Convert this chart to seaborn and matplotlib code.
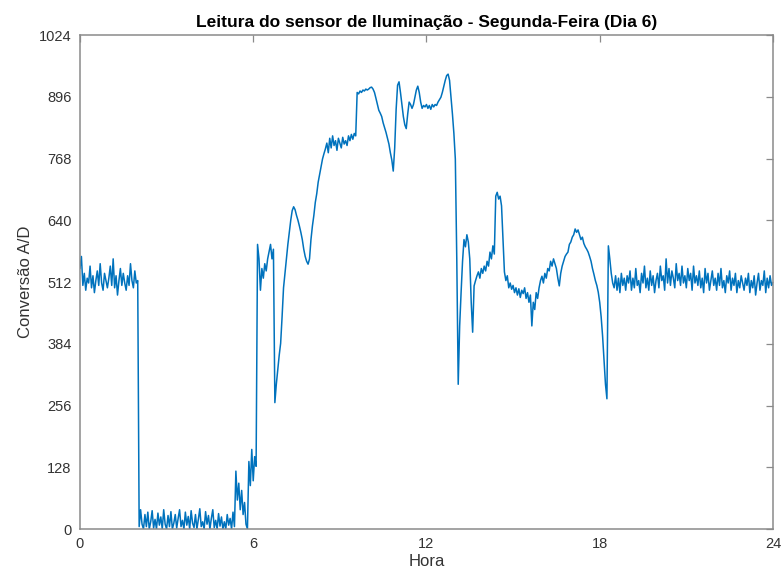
import numpy as np
import pandas as pd
import matplotlib
matplotlib.use("Agg")
import matplotlib.pyplot as plt
import seaborn as sns

# leituras a cada 0.05 h (3 min), uma linha por hora
hora_00 = [540, 565, 505, 530, 495, 520, 510, 545, 500, 525, 490, 515, 535, 505, 550, 510, 495, 530, 515, 500]
hora_01 = [520, 545, 505, 560, 500, 525, 485, 515, 540, 505, 530, 510, 495, 525, 505, 550, 515, 500, 535, 510]
hora_02 = [515, 5, 40, 10, 0, 30, 5, 35, 0, 15, 38, 2, 20, 0, 33, 8, 25, 0, 40, 10]
hora_03 = [0, 28, 5, 36, 0, 12, 30, 2, 22, 40, 5, 18, 0, 35, 8, 26, 0, 38, 12, 3]
hora_04 = [30, 0, 20, 42, 5, 15, 0, 36, 10, 28, 0, 22, 40, 3, 18, 0, 32, 6, 25, 0]
hora_05 = [15, 0, 30, 8, 22, 0, 35, 5, 120, 60, 95, 40, 80, 30, 55, 10, 0, 140, 90, 165]
hora_06 = [100, 150, 130, 590, 560, 495, 540, 520, 550, 535, 560, 575, 590, 560, 580, 262, 300, 330, 360, 385]
hora_07 = [440, 500, 530, 560, 590, 615, 640, 660, 668, 662, 650, 640, 628, 615, 600, 580, 565, 555, 549, 560]
hora_08 = [600, 628, 650, 677, 695, 719, 735, 750, 767, 778, 788, 800, 780, 810, 790, 815, 795, 805, 785, 810]
hora_09 = [800, 790, 812, 798, 805, 795, 815, 805, 818, 808, 820, 815, 905, 902, 908, 905, 910, 908, 912, 910]
hora_10 = [912, 915, 916, 912, 905, 893, 880, 868, 862, 855, 842, 832, 822, 810, 798, 780, 765, 742, 790, 870]
hora_11 = [920, 927, 905, 880, 855, 838, 830, 860, 885, 880, 872, 880, 895, 910, 918, 905, 885, 872, 878, 875]
hora_12 = [880, 872, 878, 870, 880, 875, 880, 878, 885, 890, 895, 905, 918, 930, 940, 943, 930, 895, 860, 820]
hora_13 = [767, 560, 300, 421, 491, 555, 600, 585, 610, 595, 560, 470, 408, 504, 515, 525, 533, 520, 540, 530]
hora_14 = [545, 535, 555, 545, 574, 560, 587, 570, 690, 698, 684, 690, 670, 600, 533, 515, 525, 500, 510, 497]
hora_15 = [505, 490, 500, 485, 498, 480, 495, 488, 500, 478, 490, 470, 485, 421, 470, 455, 490, 478, 500, 515]
hora_16 = [524, 510, 530, 520, 540, 535, 555, 545, 560, 550, 540, 520, 504, 530, 545, 555, 565, 570, 574, 590]
hora_17 = [595, 605, 610, 622, 615, 620, 610, 600, 605, 592, 585, 580, 574, 565, 555, 540, 528, 515, 505, 491]
hora_18 = [470, 440, 400, 350, 300, 270, 587, 560, 530, 510, 500, 525, 495, 520, 490, 530, 505, 520, 495, 525]
hora_19 = [510, 535, 495, 520, 500, 540, 505, 515, 490, 530, 510, 545, 500, 520, 495, 535, 505, 525, 490, 515]
hora_20 = [530, 500, 545, 515, 525, 495, 560, 510, 540, 505, 535, 520, 500, 550, 515, 530, 505, 545, 510, 525]
hora_21 = [500, 540, 515, 530, 495, 545, 510, 525, 505, 535, 500, 520, 490, 540, 510, 530, 495, 515, 535, 505]
hora_22 = [520, 495, 530, 505, 540, 500, 515, 490, 525, 510, 535, 495, 520, 505, 530, 490, 515, 500, 525, 510]
hora_23 = [495, 520, 505, 530, 490, 515, 500, 525, 485, 510, 530, 495, 515, 505, 535, 490, 520, 500, 525, 505]
hora_24 = [510]

blocos = [hora_00, hora_01, hora_02, hora_03, hora_04, hora_05, hora_06, hora_07,
          hora_08, hora_09, hora_10, hora_11, hora_12, hora_13, hora_14, hora_15,
          hora_16, hora_17, hora_18, hora_19, hora_20, hora_21, hora_22, hora_23]
for i, b in enumerate(blocos):
    assert len(b) == 20, (i, len(b))

leitura = sum(blocos, []) + hora_24
hora = np.arange(len(leitura)) * 0.05
df = pd.DataFrame({"Hora": hora, "Leitura": leitura})

xticks = [0, 6, 12, 18, 24]
yticks = [0, 128, 256, 384, 512, 640, 768, 896, 1024]

sns.set_style("white")
plt.rcParams["font.family"] = ["Liberation Sans", "DejaVu Sans"]

fig = plt.figure(figsize=(7.84, 5.83), dpi=100)
ax = fig.add_axes([0.102, 0.0926, 0.8839, 0.8473])

sns.lineplot(data=df, x="Hora", y="Leitura", ax=ax, color="#0072BD", linewidth=1.1)

ax.set_xlim(0, 24)
ax.set_ylim(0, 1024)
ax.set_xticks(xticks)
ax.set_yticks(yticks)
ax.tick_params(direction="in", length=5, width=0.9, color="#8a8a8a", labelcolor="#333333",
               labelsize=10.5, top=True, right=True, pad=6)
for s in ax.spines.values():
    s.set_visible(True)
    s.set_color("#8a8a8a")
    s.set_linewidth(1.1)

ax.set_title("Leitura do sensor de Iluminação - Segunda-Feira (Dia 6)",
             fontsize=12.5, fontweight="bold", color="black", pad=6)
ax.set_xlabel("Hora", fontsize=12, color="#333333", labelpad=2)
ax.set_ylabel("Conversão A/D", fontsize=12, color="#333333", labelpad=4)

fig.savefig("out.png", dpi=100)
